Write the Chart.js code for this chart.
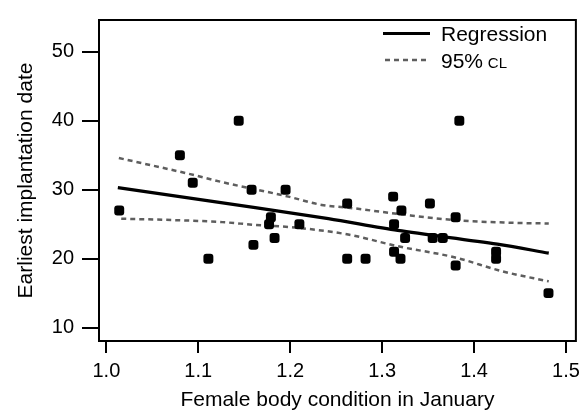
<!DOCTYPE html>
<html>
<head>
<meta charset="utf-8">
<script src="https://cdn.jsdelivr.net/npm/chart.js@4"></script>
<style>
  html, body { margin: 0; padding: 0; background: #fff; }
  #wrap { width: 586px; height: 413px; }
</style>
</head>
<body>
<div id="wrap"><canvas id="c" width="586" height="413"></canvas></div>
<script>
// body condition (x) vs earliest implantation date (y)
const condX = [1.014, 1.080, 1.094, 1.144, 1.158, 1.195, 1.384, 1.179, 1.177, 1.210,
  1.183, 1.160, 1.111, 1.262, 1.312, 1.321, 1.352, 1.380, 1.313, 1.325,
  1.355, 1.366, 1.262, 1.282, 1.313, 1.320, 1.380, 1.424, 1.424, 1.481];
const dateY = [27, 35, 31, 40, 30, 30, 40, 26, 25, 25,
  23, 22, 20, 28, 29, 27, 28, 26, 25, 23,
  23, 23, 20, 20, 21, 20, 19, 21, 20, 15];

// regression line + 95% confidence limits
const regX = [1.0125, 1.162, 1.2415, 1.317, 1.4254, 1.4813];
const regY = [30.3, 27.4, 25.8, 24.1, 22.1, 20.8];
const upX = [1.0136, 1.090, 1.1261, 1.198, 1.2343, 1.2631, 1.317, 1.3785, 1.443, 1.4813];
const upY = [34.6, 32.3, 31.1, 29.0, 27.8, 27.4, 26.5, 25.6, 25.2, 25.1];
const loX = [1.0162, 1.072, 1.1261, 1.162, 1.1982, 1.2631, 1.317, 1.3785, 1.4326, 1.4813];
const loY = [25.8, 25.6, 25.3, 24.9, 24.6, 23.5, 21.8, 20.2, 18.1, 16.7];

const xTicks = [1.0, 1.1, 1.2, 1.3, 1.4, 1.5];
const xTickLabels = ["1.0", "1.1", "1.2", "1.3", "1.4", "1.5"];
const yTicks = [10, 20, 30, 40, 50];
const legendLabels = ["Regression", "95%", "CL"];

const FONT = "'Liberation Sans', Arial, sans-serif";
const dashGrey = "#5e5e5e";

const toPts = (xs, ys) => xs.map((x, i) => ({ x, y: ys[i] }));

// frame round the plot + the legend in the top right corner
const framePlugin = {
  id: "frame",
  beforeDatasetsDraw(chart) {
    const { ctx, chartArea: a } = chart;
    ctx.save();
    ctx.strokeStyle = "#000";
    ctx.lineWidth = 2;
    ctx.strokeRect(a.left, a.top, a.right - a.left, a.bottom - a.top);
    ctx.restore();
  },
  afterDraw(chart) {
    const { ctx } = chart;
    ctx.save();
    ctx.textBaseline = "alphabetic";
    ctx.fillStyle = "#000";
    // solid
    ctx.strokeStyle = "#000";
    ctx.lineWidth = 3.2;
    ctx.beginPath();
    ctx.moveTo(383, 33.5);
    ctx.lineTo(430, 33.5);
    ctx.stroke();
    ctx.font = "21px " + FONT;
    ctx.fillText(legendLabels[0], 441, 41);
    // dashed
    ctx.strokeStyle = dashGrey;
    ctx.lineWidth = 2.5;
    ctx.setLineDash([5, 4]);
    ctx.beginPath();
    ctx.moveTo(385, 60);
    ctx.lineTo(430, 60);
    ctx.stroke();
    ctx.setLineDash([]);
    ctx.fillText(legendLabels[1], 441, 68);
    const w = ctx.measureText(legendLabels[1] + " ").width;
    ctx.font = "15px " + FONT;
    ctx.fillText(legendLabels[2], 441 + w - 1, 68);
    ctx.restore();
  }
};

new Chart(document.getElementById("c"), {
  type: "scatter",
  data: {
    datasets: [
      {
        label: "data",
        data: toPts(condX, dateY),
        pointStyle: "rectRounded",
        pointRadius: 5.8,
        pointBackgroundColor: "#000",
        pointBorderColor: "#000",
        pointBorderWidth: 0,
        showLine: false
      },
      {
        label: "Regression",
        data: toPts(regX, regY),
        showLine: true,
        borderColor: "#000",
        borderWidth: 3.2,
        pointRadius: 0,
        tension: 0.3
      },
      {
        label: "upper",
        data: toPts(upX, upY),
        showLine: true,
        borderColor: dashGrey,
        borderWidth: 2.5,
        borderDash: [5, 4],
        pointRadius: 0,
        cubicInterpolationMode: "monotone"
      },
      {
        label: "lower",
        data: toPts(loX, loY),
        showLine: true,
        borderColor: dashGrey,
        borderWidth: 2.5,
        borderDash: [5, 4],
        pointRadius: 0,
        cubicInterpolationMode: "monotone"
      }
    ]
  },
  options: {
    responsive: false,
    animation: false,
    devicePixelRatio: 1,
    layout: { padding: { top: 6, right: 7, left: 0, bottom: 0 } },
    plugins: {
      legend: { display: false },
      tooltip: { enabled: false }
    },
    scales: {
      x: {
        type: "linear",
        min: 0.992,
        max: 1.5108,
        afterFit: s => { s.height = 72; },
        afterBuildTicks: s => { s.ticks = xTicks.map(v => ({ value: v })); },
        grid: { drawOnChartArea: false, drawTicks: true, tickLength: 12, color: "#000", lineWidth: 2 },
        border: { display: false },
        ticks: {
          color: "#000",
          padding: 6,
          maxRotation: 0,
          font: { family: FONT, size: 20 },
          callback: (v, i) => xTickLabels[i]
        },
        title: {
          display: true,
          text: "Female body condition in January",
          color: "#000",
          font: { family: FONT, size: 21 },
          padding: { top: 0, bottom: 0 }
        }
      },
      y: {
        type: "linear",
        min: 8.05,
        max: 54.63,
        afterFit: s => { s.width = 99; },
        afterBuildTicks: s => { s.ticks = yTicks.map(v => ({ value: v })); },
        grid: { drawOnChartArea: false, drawTicks: true, tickLength: 17, color: "#000", lineWidth: 2 },
        border: { display: false },
        ticks: {
          color: "#000",
          padding: 8,
          font: { family: FONT, size: 20 }
        },
        title: {
          display: true,
          text: "Earliest implantation date",
          color: "#000",
          font: { family: FONT, size: 21 },
          padding: { top: 14, bottom: 0 }
        }
      }
    }
  },
  plugins: [framePlugin]
});
</script>
</body>
</html>
